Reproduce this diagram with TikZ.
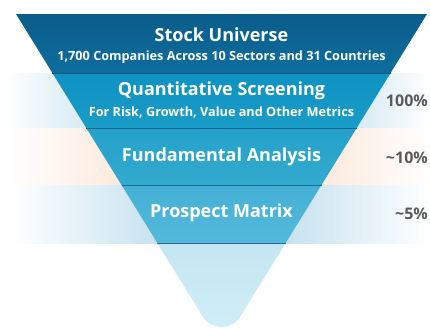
\documentclass[tikz,border=0pt]{standalone}
\usepackage{fontspec}
\setmainfont{Open Sans}
\definecolor{bandA1}{HTML}{0A5C8A}
\definecolor{bandA2}{HTML}{0D6E9E}
\definecolor{bandB1}{HTML}{0E92C1}
\definecolor{bandB2}{HTML}{1A9CC8}
\definecolor{bandC1}{HTML}{25A1CA}
\definecolor{bandC2}{HTML}{33AACF}
\definecolor{bandD1}{HTML}{44B0D5}
\definecolor{bandD2}{HTML}{54B9DB}
\definecolor{tip1}{HTML}{C3E6F2}
\definecolor{tip2}{HTML}{D0EEF7}
\definecolor{sepA}{HTML}{0A5478}
\definecolor{sepB}{HTML}{0C6590}
\definecolor{sepC}{HTML}{176B94}
\definecolor{sepD}{HTML}{2A6892}
\definecolor{bgblue}{HTML}{D2E8F2}
\definecolor{bgblueB}{HTML}{C6E2EF}
\definecolor{bgpeach}{HTML}{FCEADC}
\definecolor{pctgray}{HTML}{5A5A5A}
\tikzset{
  title/.style={text=white,font=\bfseries\fontsize{18}{20}\selectfont,inner sep=0pt,anchor=center},
  subtitle/.style={text=white,font=\bfseries\fontsize{12.7}{14}\selectfont,inner sep=0pt,anchor=center},
  pct/.style={text=pctgray,font=\bfseries\fontsize{16}{18}\selectfont,inner sep=0pt,anchor=east},
  sepline/.style={line width=0.9pt}
}
\begin{document}
\begin{tikzpicture}[x=1pt,y=-1pt]
\useasboundingbox (0,0) rectangle (430,327);
% background bands
\shade[left color=white,right color=bgblue] (5,73) rectangle (95,128);
\shade[left color=bgblue,right color=white] (350,73) rectangle (430,128);
\shade[left color=white,right color=bgpeach] (5,128) rectangle (125,185);
\shade[left color=bgpeach,right color=white] (320,128) rectangle (432,185);
\shade[left color=white,right color=bgblueB] (10,185) rectangle (160,243);
\shade[left color=bgblueB,right color=white] (285,185) rectangle (430,243);
% funnel bands
\shade[top color=bandA1,bottom color=bandA2] (16,14) -- (427,14) -- (390.6,73) -- (52.4,73) -- cycle;
\shade[top color=bandB1,bottom color=bandB2] (52.4,73) -- (390.6,73) -- (356.7,128) -- (86.3,128) -- cycle;
\shade[top color=bandC1,bottom color=bandC2] (86.3,128) -- (356.7,128) -- (321.5,185) -- (121.5,185) -- cycle;
\shade[top color=bandD1,bottom color=bandD2] (121.5,185) -- (321.5,185) -- (285.7,243) -- (157.3,243) -- cycle;
\shade[top color=tip1,bottom color=tip2] (157.3,243) -- (285.7,243) -- (240.3,316.5) .. controls (231.7,330.5) and (211.3,330.5) .. (202.7,316.5) -- cycle;
% separators
\draw[sepline,sepA] (52.4,73) -- (390.6,73);
\draw[sepline,sepB] (86.3,128) -- (356.7,128);
\draw[sepline,sepC] (121.5,185) -- (321.5,185);
\draw[sepline,sepD] (157.3,243) -- (285.7,243);
% texts
\node[title] (t1) at (221.5,35) {Stock Universe};
\node[subtitle] (s1) at (221.5,57) {1,700 Companies Across 10 Sectors and 31 Countries};
\node[title] (t2) at (221.5,91) {Quantitative Screening};
\node[subtitle] (s2) at (221.5,112) {For Risk, Growth, Value and Other Metrics};
\node[title] (t3) at (221.5,157) {Fundamental Analysis};
\node[title] (t4) at (221.5,213) {Prospect Matrix};
\node[pct] (p1) at (428,101) {100\%};
\node[pct] (p2) at (428,158) {\textasciitilde10\%};
\node[pct] (p3) at (428,214) {\textasciitilde5\%};
\end{tikzpicture}
\end{document}
